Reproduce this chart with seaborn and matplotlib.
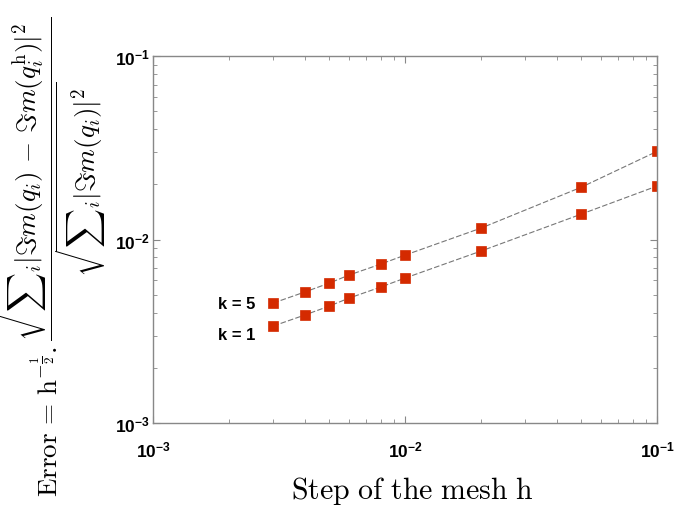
import numpy as np
import pandas as pd
import matplotlib
matplotlib.use("Agg")
import matplotlib.pyplot as plt
import matplotlib.ticker as mticker
import seaborn as sns

h = [0.003, 0.004, 0.005, 0.006, 0.008, 0.01, 0.02, 0.05, 0.1]
err_k5 = [0.00451, 0.00518, 0.00579, 0.00641, 0.00735, 0.00823, 0.01155, 0.0193, 0.0303]
err_k1 = [0.00338, 0.00388, 0.00434, 0.00480, 0.00551, 0.00617, 0.00866, 0.01377, 0.0196]
series_labels = ["k = 5", "k = 1"]

sns.set_style("ticks")
plt.rcParams['font.family'] = ['Liberation Sans', 'DejaVu Sans']
plt.rcParams['mathtext.fontset'] = 'custom'
plt.rcParams['mathtext.rm'] = 'Liberation Sans'
plt.rcParams['mathtext.bf'] = 'Liberation Sans:bold'
plt.rcParams['text.color'] = 'black'
plt.rcParams['axes.labelcolor'] = 'black'
plt.rcParams['xtick.labelcolor'] = 'black'
plt.rcParams['ytick.labelcolor'] = 'black'

fig = plt.figure(figsize=(6.86, 5.06), dpi=100)
ax = fig.add_axes([0.223, 0.162, 0.735, 0.725])

red = '#d42a00'
for vals in (err_k5, err_k1):
    df = pd.DataFrame({'h': h, 'err': vals})
    sns.lineplot(data=df, x='h', y='err', ax=ax, color='#777777', linestyle=(0, (5, 2)),
                 linewidth=0.8, marker='s', markersize=6.5, markerfacecolor=red,
                 markeredgecolor=red, markeredgewidth=0.5)

ax.set_xscale('log')
ax.set_yscale('log')
ax.set_xlim(1e-3, 1e-1)
ax.set_ylim(1e-3, 1e-1)

def fmt(v, pos):
    e = int(round(np.log10(v)))
    return r'$\mathbf{10^{%d}}$' % e

ax.xaxis.set_major_locator(mticker.LogLocator(base=10, numticks=10))
ax.yaxis.set_major_locator(mticker.LogLocator(base=10, numticks=10))
ax.xaxis.set_major_formatter(mticker.FuncFormatter(fmt))
ax.yaxis.set_major_formatter(mticker.FuncFormatter(fmt))
ax.xaxis.set_minor_locator(mticker.LogLocator(base=10, subs=np.arange(2, 10), numticks=20))
ax.yaxis.set_minor_locator(mticker.LogLocator(base=10, subs=np.arange(2, 10), numticks=20))
ax.xaxis.set_minor_formatter(mticker.NullFormatter())
ax.yaxis.set_minor_formatter(mticker.NullFormatter())

ax.tick_params(which='both', direction='in', top=True, right=True, color='#888888')
ax.tick_params(which='major', length=5, width=0.8, labelsize=12.5)
ax.tick_params(axis='x', which='major', pad=12)
ax.tick_params(axis='y', which='major', pad=2)
ax.tick_params(which='minor', length=3, width=0.6)
for s in ax.spines.values():
    s.set_color('#888888')
    s.set_linewidth(1.0)
    s.set_visible(True)

ax.set_xlabel(r'$\mathrm{Step\ of\ the\ mesh\ h}$', fontsize=21.5, math_fontfamily='cm')
ax.xaxis.set_label_coords(0.515, -0.14)
ax.set_ylabel(r'$\mathrm{Error}\,=\,\mathrm{h}^{-\frac{1}{2}}.\dfrac{\sqrt{{\sum}_i|\Im m(q_i)\,-\,\Im m(q_i^{\mathrm{h}})|^2}}{\sqrt{{\sum}_i|\Im m(q_i)|^2}}$',
              fontsize=19.5, math_fontfamily='cm')
ax.yaxis.set_label_coords(-0.09, 0.455)

ax.text(0.00255, err_k5[0], series_labels[0], fontsize=12, fontweight='bold', ha='right', va='center')
ax.text(0.00255, err_k1[0] * 0.90, series_labels[1], fontsize=12, fontweight='bold', ha='right', va='center')

fig.savefig('out.png', dpi=100)
